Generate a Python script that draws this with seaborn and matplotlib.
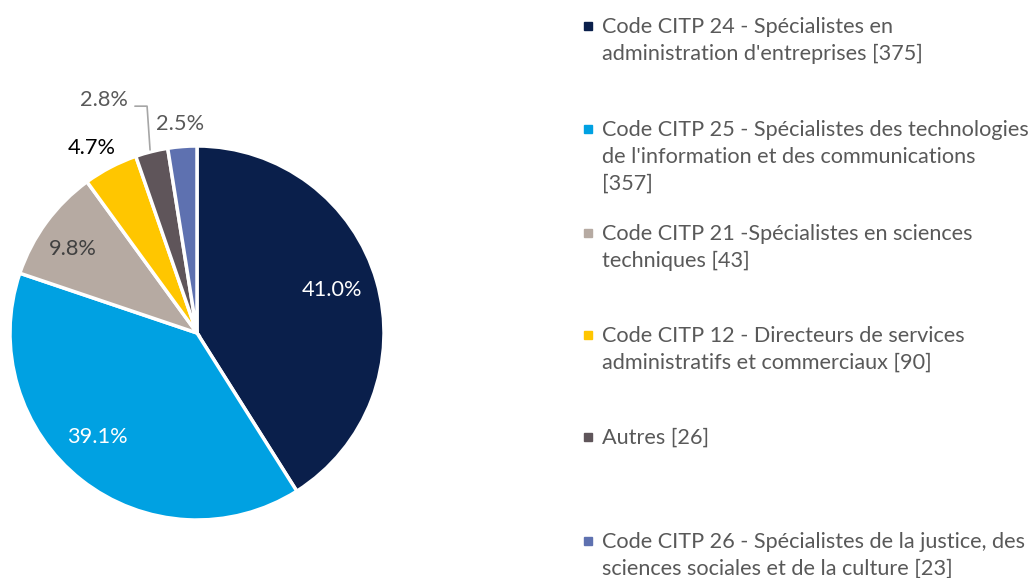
import matplotlib
matplotlib.use("Agg")
import matplotlib.pyplot as plt
import matplotlib.patches as mpatches
import seaborn as sns

sns.set_theme(style="white")
plt.rcParams['font.family'] = ['Lato', 'DejaVu Sans']

# slice values (percent), clockwise from 12 o'clock
shares = [41.0, 39.1, 9.8, 4.7, 2.8, 2.5]
pct_labels = ["41.0%", "39.1%", "9.8%", "4.7%", "2.8%", "2.5%"]
legend_labels = [
    "Code CITP 24 - Spécialistes en\nadministration d'entreprises [375]",
    "Code CITP 25 - Spécialistes des technologies\nde l'information et des communications\n[357]",
    "Code CITP 21 -Spécialistes en sciences\ntechniques [43]",
    "Code CITP 12 - Directeurs de services\nadministratifs et commerciaux [90]",
    "Autres [26]",
    "Code CITP 26 - Spécialistes de la justice, des\nsciences sociales et de la culture [23]",
]
colors = ["#0a1f4b", "#00a1e2", "#b6aaa2", "#ffc600", "#5f555a", "#5e71b0"]

W, H = 1031, 578
fig = plt.figure(figsize=(W / 100, H / 100), dpi=100)

# pie axes: centre (197,333) px, radius 187 px
cx, cy, r = 197, 333, 187
ax = fig.add_axes([(cx - r) / W, (H - cy - r) / H, 2 * r / W, 2 * r / H])
ax.pie(shares, colors=colors, startangle=90, counterclock=False,
       wedgeprops=dict(edgecolor="white", linewidth=2.5))
ax.set_xlim(-1, 1)
ax.set_ylim(-1, 1)
ax.set_aspect("equal")
ax.axis("off")

# percentage labels
lab_pos = [(0.722, 0.230), (-0.535, -0.556), (-0.663, 0.449),
           (-0.561, 0.989), (-0.497, 1.246), (-0.091, 1.118)]
lab_col = ["white", "white", "#404040", "black", "#595959", "#595959"]
for t, (x, y), c in zip(pct_labels, lab_pos, lab_col):
    ax.text(x, y, t, ha="center", va="center", fontsize=15.7, color=c, clip_on=False)
# leader line for the 2.8% label
ax.plot([-0.332, -0.267, -0.251], [1.213, 1.213, 0.979], color="#a6a6a6",
        lw=1.2, clip_on=False)

# legend, drawn manually with equal slot spacing
first_line_y = [25, 128, 232, 334, 436, 540]
for lab, col, yy in zip(legend_labels, colors, first_line_y):
    fig.patches.append(mpatches.Rectangle((584 / W, (H - yy - 5) / H), 8 / W, 8 / H,
                                          transform=fig.transFigure, color=col))
    fig.text(602 / W, (H - yy + 8) / H, lab, ha="left", va="top", fontsize=15.6,
             color="#595959", linespacing=1.42)

fig.savefig("out.png", dpi=100)
